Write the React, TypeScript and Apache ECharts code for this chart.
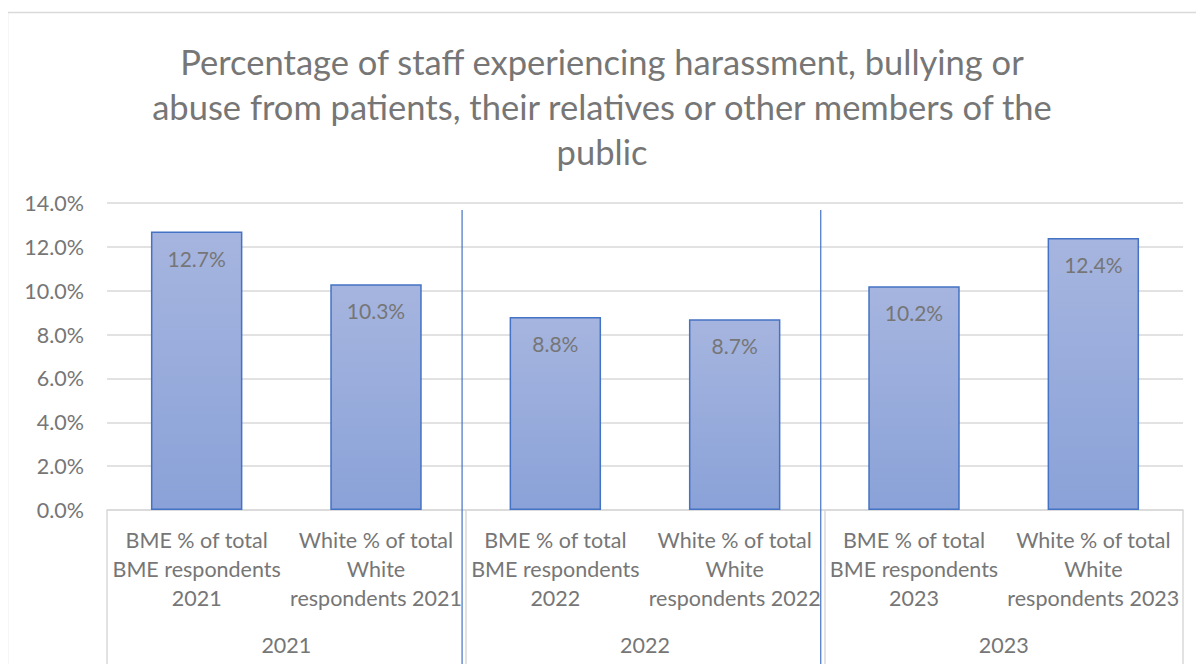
import React, { useEffect, useRef } from "react";
import * as echarts from "echarts";

const titleText =
  "Percentage of staff experiencing harassment, bullying or\nabuse from patients, their relatives or other members of the\npublic";
const categories = [
  "BME % of total\nBME respondents\n2021",
  "White % of total\nWhite\nrespondents 2021",
  "BME % of total\nBME respondents\n2022",
  "White % of total\nWhite\nrespondents 2022",
  "BME % of total\nBME respondents\n2023",
  "White % of total\nWhite\nrespondents 2023",
];
const groups = ["2021", "2022", "2023"];
const values = [12.7, 10.3, 8.8, 8.7, 10.2, 12.4];
const separators = [1.98, 3.98];

const FONT = "Lato";
const GRAY = "#767676";

export default function App() {
  const ref = useRef<HTMLDivElement>(null);
  useEffect(() => {
    const chart = echarts.init(ref.current!, null, { renderer: "svg" });
    chart.setOption({
      animation: false,
      backgroundColor: "#ffffff",
      textStyle: { fontFamily: FONT },
      title: {
        text: titleText,
        left: "center",
        top: 34,
        textStyle: {
          fontFamily: FONT,
          fontSize: 34.5,
          fontWeight: "normal",
          color: GRAY,
          lineHeight: 45,
          align: "center",
        },
      },
      graphic: [
        {
          type: "rect",
          shape: { x: 7.5, y: 12.5, width: 1220, height: 700 },
          style: { fill: "none", stroke: "#d9d9d9", lineWidth: 1.5 },
          silent: true,
        },
      ],
      grid: { left: 107, right: 21, top: 203, bottom: 154, containLabel: false },
      xAxis: [
        {
          type: "category",
          data: categories,
          axisLine: { show: true, lineStyle: { color: "#d9d9d9", width: 1.5 } },
          axisTick: { show: false },
          axisLabel: {
            interval: 0,
            margin: 15,
            fontFamily: FONT,
            fontSize: 21.5,
            lineHeight: 29,
            color: GRAY,
            align: "center",
          },
        },
        {
          type: "category",
          data: groups,
          position: "bottom",
          offset: 154,
          axisLine: { show: false },
          axisTick: {
            show: true,
            inside: true,
            length: 154,
            interval: 0,
            lineStyle: { color: "#d9d9d9", width: 1.5 },
          },
          axisLabel: {
            inside: true,
            margin: 8,
            fontFamily: FONT,
            fontSize: 21.5,
            color: GRAY,
          },
        },
        {
          type: "value",
          min: 0,
          max: 6,
          show: false,
        },
      ],
      yAxis: {
        type: "value",
        min: 0,
        max: 14,
        interval: 2,
        axisLine: { show: false },
        axisTick: { show: false },
        splitLine: { lineStyle: { color: "#d9d9d9", width: 1.5 } },
        axisLabel: {
          margin: 23,
          fontFamily: FONT,
          fontSize: 21.5,
          color: GRAY,
          formatter: (v: number) => v.toFixed(1) + "%",
        },
      },
      series: [
        {
          type: "bar",
          xAxisIndex: 0,
          data: values,
          barWidth: "51%",
          itemStyle: {
            color: new echarts.graphic.LinearGradient(0, 0, 0, 1, [
              { offset: 0, color: "#a6b5df" },
              { offset: 1, color: "#8aa2d8" },
            ]),
            borderColor: "#4472c4",
            borderWidth: 1.5,
          },
          label: {
            show: true,
            position: "insideTop",
            distance: 16,
            fontFamily: FONT,
            fontSize: 21,
            color: GRAY,
            formatter: (p: any) => p.value.toFixed(1) + "%",
          },
        },
        {
          type: "custom",
          xAxisIndex: 2,
          yAxisIndex: 0,
          clip: false,
          silent: true,
          data: separators.map((s) => [s, 0]),
          renderItem: (params: any, api: any) => {
            const x = api.coord([api.value(0), 0])[0];
            const top = api.coord([api.value(0), 14])[1] + 7;
            return {
              type: "line",
              shape: { x1: x, y1: top, x2: x, y2: api.getHeight() },
              style: { stroke: "#4472c4", lineWidth: 1.2 },
            };
          },
        },
      ],
    });
    return () => chart.dispose();
  }, []);
  return (
    <div
      ref={ref}
      style={{ width: 1204, height: 664, marginLeft: -8, marginTop: -8 }}
    />
  );
}
